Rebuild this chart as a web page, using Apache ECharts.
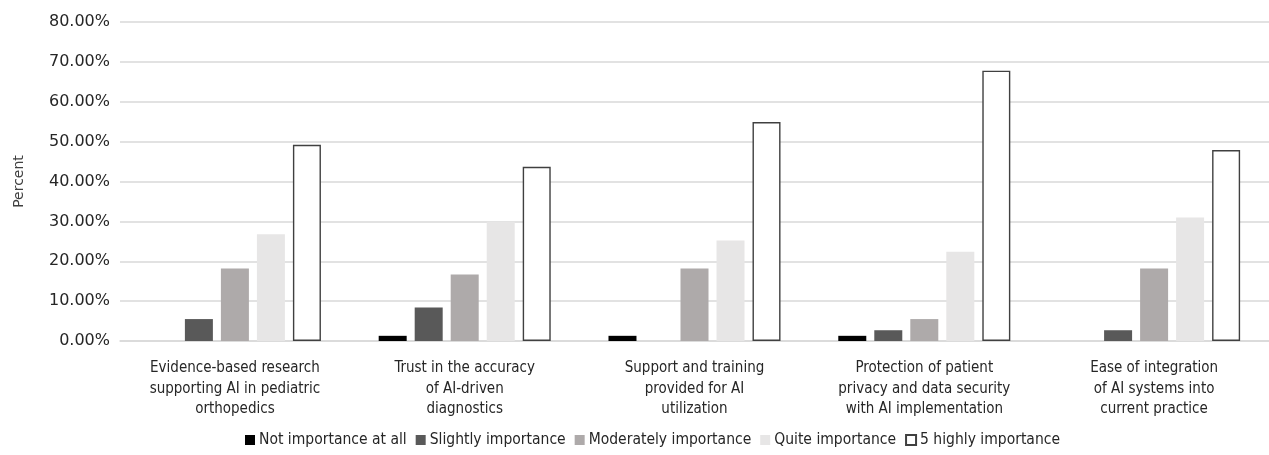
<!DOCTYPE html>
<html>
<head>
<meta charset="utf-8">
<script src="https://cdn.jsdelivr.net/npm/echarts@6/dist/echarts.min.js"></script>
<style>
  html, body { margin: 0; padding: 0; background: #fff; }
  #chart { width: 1269px; height: 455px; }
</style>
</head>
<body>
<div id="chart"></div>
<script>
// Survey factors (x-axis categories)
const categories = [
  'Evidence-based research\nsupporting AI in pediatric\northopedics',
  'Trust in the accuracy\nof AI-driven\ndiagnostics',
  'Support and training\nprovided for AI\nutilization',
  'Protection of patient\nprivacy and data security\nwith AI implementation',
  'Ease of integration\nof AI systems into\ncurrent practice'
];

// Share of respondents (percent) per importance level
const notImportance = [0, 1.3, 1.3, 1.3, 0];
const slightlyImportance = [5.5, 8.4, 0, 2.7, 2.7];
const moderatelyImportance = [18.2, 16.7, 18.2, 5.5, 18.2];
const quiteImportance = [26.8, 29.9, 25.2, 22.4, 31.0];
const highlyImportance = [49.2, 43.7, 54.9, 67.8, 47.9];

const seriesNames = [
  'Not importance at all',
  'Slightly importance',
  'Moderately importance',
  'Quite importance',
  '5 highly importance'
];

const condensed = '"DejaVu Sans Condensed", "DejaVu Sans", sans-serif';
const plain = '"DejaVu Sans", Verdana, sans-serif';

function bar(name, data, itemStyle) {
  return {
    name: name,
    type: 'bar',
    data: data,
    barWidth: 28,
    barGap: '28.6%',
    itemStyle: itemStyle,
    emphasis: { disabled: true }
  };
}

const chart = echarts.init(document.getElementById('chart'), null, { renderer: 'canvas' });
chart.setOption({
  animation: false,
  backgroundColor: '#ffffff',
  grid: { left: 120, top: 22, width: 1160, height: 319, containLabel: false },
  legend: {
    bottom: 2,
    left: 240,
    itemWidth: 10,
    itemHeight: 10,
    itemGap: 9,
    icon: 'rect',
    textStyle: { fontFamily: condensed, fontSize: 15.5, color: '#262626', padding: [0, 0, 0, -1] },
    data: seriesNames
  },
  xAxis: {
    type: 'category',
    data: categories,
    axisLine: { lineStyle: { color: '#d9d9d9', width: 1.5 } },
    axisTick: { show: false },
    axisLabel: {
      interval: 0,
      margin: 17,
      fontFamily: condensed,
      fontSize: 15,
      lineHeight: 20.5,
      color: '#262626',
      align: 'center'
    }
  },
  yAxis: {
    type: 'value',
    min: 0,
    max: 80,
    interval: 10,
    name: 'Percent',
    nameLocation: 'middle',
    nameGap: 94,
    nameRotate: 90,
    nameTextStyle: { fontFamily: plain, fontSize: 14, color: '#404040' },
    axisLine: { show: false },
    axisTick: { show: false },
    splitLine: { lineStyle: { color: '#d9d9d9', width: 1.5 } },
    axisLabel: {
      margin: 10,
      fontFamily: plain,
      fontSize: 16,
      color: '#262626',
      formatter: v => v.toFixed(2) + '%'
    }
  },
  series: [
    bar(seriesNames[0], notImportance, { color: '#000000' }),
    bar(seriesNames[1], slightlyImportance, { color: '#595959' }),
    bar(seriesNames[2], moderatelyImportance, { color: '#aeaaaa' }),
    bar(seriesNames[3], quiteImportance, { color: '#e7e6e6' }),
    bar(seriesNames[4], highlyImportance, { color: '#ffffff', borderColor: '#404040', borderWidth: 1.4 })
  ]
});
</script>
</body>
</html>
